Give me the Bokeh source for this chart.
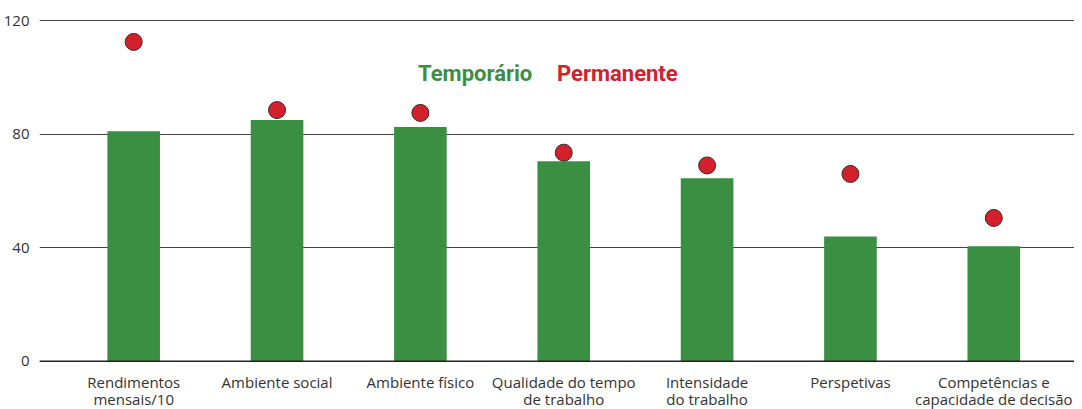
from bokeh.plotting import figure
from bokeh.layouts import column
from bokeh.models import Range1d, FixedTicker, Label, Span
from bokeh.core.properties import value
from bokeh.embed import file_html
from bokeh.resources import INLINE

categories = ["Rendimentos\nmensais/10", "Ambiente social", "Ambiente físico",
              "Qualidade do tempo\nde trabalho", "Intensidade\ndo trabalho",
              "Perspetivas", "Competências e\ncapacidade de decisão"]
temporario = [81, 85, 82.5, 70.5, 64.5, 44, 40.5]
permanente = [112.5, 88.5, 87.5, 73.5, 69, 66, 50.5]
y_ticks = [0, 40, 80, 120]

GREEN = "#3a8f43"
RED = "#d4202c"
xs = list(range(len(categories)))

x_range = Range1d(-0.657, 6.563)

p = figure(width=1074, height=372, output_backend="svg", toolbar_location=None,
           x_range=x_range, y_range=Range1d(-0.4, 120.4),
           min_border_left=30, min_border_right=0, min_border_top=19, min_border_bottom=10)
p.outline_line_color = None
p.background_fill_color = "white"
p.border_fill_color = "white"

p.vbar(x=xs, top=temporario, width=0.367, fill_color=GREEN, line_color=None)
p.scatter(x=xs, y=permanente, size=17, fill_color=RED, line_color="#3a2a2a", line_width=1)

p.xgrid.visible = False
p.ygrid.ticker = FixedTicker(ticks=y_ticks)
p.ygrid.grid_line_color = "#444444"
p.ygrid.grid_line_width = 1
p.add_layout(Span(location=0, dimension="width", line_color="#222222", line_width=1.5))

p.yaxis.ticker = FixedTicker(ticks=y_ticks)
p.yaxis.axis_line_color = None
p.yaxis.major_tick_line_color = None
p.yaxis.minor_tick_line_color = None
p.yaxis.major_label_text_font = "Open Sans"
p.yaxis.major_label_text_font_size = "15px"
p.yaxis.major_label_text_color = "#333333"
p.yaxis.major_label_standoff = 4
p.xaxis.visible = False

p.add_layout(Label(x=2.78, y=101.3, text="Temporário", text_align="right", text_baseline="middle",
                   text_font="Roboto", text_font_style="bold",
                   text_font_size="22px", text_color=GREEN))
p.add_layout(Label(x=2.953, y=101.3, text="Permanente", text_align="left", text_baseline="middle",
                   text_font="Roboto", text_font_style="bold",
                   text_font_size="22px", text_color=RED))

# category labels strip below the chart, sharing the same x scale
q = figure(width=1074, height=37, output_backend="svg", toolbar_location=None,
           x_range=x_range, y_range=Range1d(0, 1),
           min_border_left=30, min_border_right=0, min_border_top=0, min_border_bottom=0)
q.outline_line_color = None
q.axis.visible = False
q.grid.visible = False
q.text(x=xs, y=1, text=categories, text_align="center", text_baseline="top", y_offset=-1,
       text_font=value("Open Sans"), text_font_size="15px", text_color="#333333",
       text_line_height=0.88)

layout = column(p, q, spacing=0)
open("out.html", "w").write(file_html(layout, INLINE))
